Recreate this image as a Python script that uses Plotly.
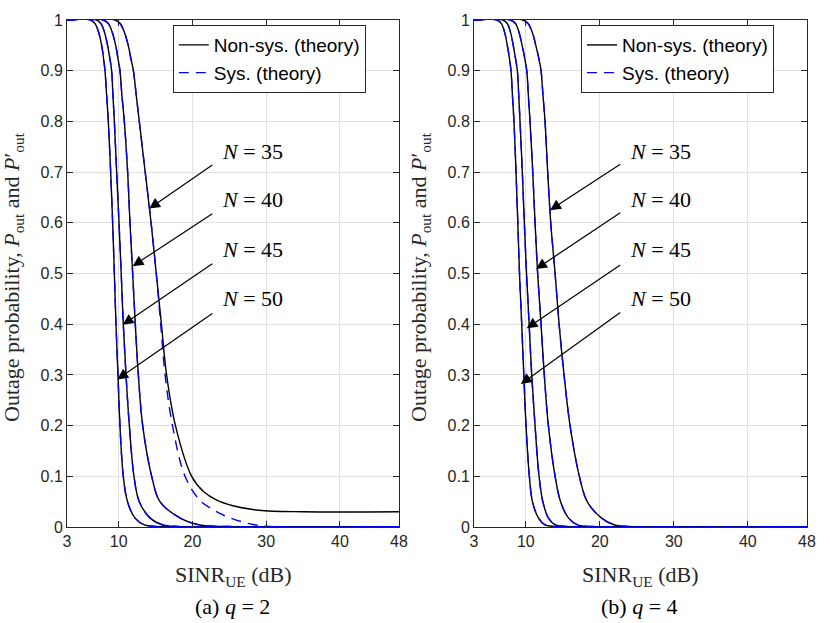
import plotly.graph_objects as go

# values (x = SINR_UE in dB, y = outage probability)
# y levels shared by most curves
y_lvl = [1, 1, 0.993, 0.975, 0.95, 0.925, 0.9, 0.85, 0.8, 0.7, 0.6, 0.5, 0.4, 0.3, 0.2, 0.1,
         0.05, 0.018, 0.004, 0.001, 0, 0]

# (a) q = 2, non-systematic (N = 50, 45, 40, 35)
xa_50 = [3, 6.2, 6.8, 7.3, 7.7, 7.95, 8.15, 8.38, 8.6, 8.92, 9.19, 9.42, 9.64, 9.91, 10.18, 10.63,
         11.2, 12.2, 13.5, 15, 20, 48]
xa_45 = [3, 7.0, 7.6, 8.1, 8.5, 8.8, 9.05, 9.23, 9.42, 9.73, 10.05, 10.35, 10.63, 11.0, 11.45, 12.08,
         12.8, 14.25, 16, 18, 22, 48]
xa_40 = [3, 7.9, 8.6, 9.15, 9.6, 9.9, 10.18, 10.45, 10.77, 11.22, 11.54, 11.9, 12.26, 12.67, 13.26, 14.48,
         15.6, 18.3, 21, 25, 30, 48]
xa_35 = [3, 9.5, 10.2, 10.8, 11.3, 11.65, 12.0, 12.4, 12.8, 13.6, 14.4, 15.1, 15.8, 16.5, 17.7, 19.9,
         21.5, 23.3, 25.5, 29, 35, 48]
ya_35 = [1, 1, 0.993, 0.975, 0.95, 0.925, 0.9, 0.85, 0.8, 0.7, 0.6, 0.5, 0.4, 0.3, 0.2, 0.1,
         0.07, 0.053, 0.042, 0.033, 0.03, 0.03]
# (a) q = 2, systematic N = 35 (other N coincide with non-sys.)
xa_35s = [3, 9.5, 10.2, 10.8, 11.3, 11.65, 12.0, 12.4, 12.8, 13.6, 14.4, 15.1, 15.7, 16.3, 17.3, 19.0,
          21.0, 22.7, 24.6, 28.2, 32, 48]
ya_35s = [1, 1, 0.993, 0.975, 0.95, 0.925, 0.9, 0.85, 0.8, 0.7, 0.6, 0.5, 0.4, 0.3, 0.2, 0.1,
          0.053, 0.035, 0.021, 0.005, 0, 0]

# (b) q = 4, sys. and non-sys. coincide
xb_50 = [3, 6.1, 6.7, 7.15, 7.5, 7.78, 8.0, 8.2, 8.4, 8.68, 8.92, 9.15, 9.45, 9.73, 10.03, 10.48,
         10.9, 11.7, 12.6, 14, 18, 48]
xb_45 = [3, 6.9, 7.5, 7.95, 8.3, 8.6, 8.86, 9.05, 9.22, 9.53, 9.8, 10.1, 10.45, 10.8, 11.25, 11.79,
         12.3, 13.05, 14, 15.5, 19, 48]
xb_40 = [3, 7.9, 8.6, 9.1, 9.5, 9.85, 10.13, 10.35, 10.57, 10.94, 11.25, 11.6, 12.06, 12.5, 13.05, 13.96,
         14.7, 15.75, 17, 19, 23, 48]
xb_35 = [3, 9.6, 10.3, 10.9, 11.35, 11.75, 12.06, 12.33, 12.6, 12.96, 13.37, 13.96, 14.5, 15.17, 15.98, 17.24,
         18.3, 20.2, 22, 24, 28, 48]

x_ticks = [3, 10, 20, 30, 40, 48]
y_ticks = [0, 0.1, 0.2, 0.3, 0.4, 0.5, 0.6, 0.7, 0.8, 0.9, 1]
y_tick_text = ["0", "0.1", "0.2", "0.3", "0.4", "0.5", "0.6", "0.7", "0.8", "0.9", "1"]

legend_names = ["Non-sys. (theory)", "Sys. (theory)"]
captions = ["(a) <i>q</i> = 2", "(b) <i>q</i> = 4"]
arrow_labels = [35, 40, 45, 50]

# label centre, arrow tail, arrow head (data coords) for each N label
arrows_a = [(28.2, 0.741, 22.9, 0.716, 14.15, 0.628),
            (28.2, 0.646, 22.9, 0.620, 11.9, 0.5145),
            (28.2, 0.547, 22.9, 0.521, 10.55, 0.399),
            (28.2, 0.451, 22.9, 0.423, 9.82, 0.291)]
arrows_b = [(28.2, 0.741, 22.97, 0.7175, 13.28, 0.625),
            (28.2, 0.646, 22.97, 0.622, 11.39, 0.509),
            (28.2, 0.547, 22.97, 0.519, 10.13, 0.392),
            (28.2, 0.451, 22.97, 0.425, 9.32, 0.282)]

panel_a_ns = [(xa_50, y_lvl), (xa_45, y_lvl), (xa_40, y_lvl), (xa_35, ya_35)]
panel_a_s = [(xa_50, y_lvl), (xa_45, y_lvl), (xa_40, y_lvl), (xa_35s, ya_35s)]
panel_b = [(xb_50, y_lvl), (xb_45, y_lvl), (xb_40, y_lvl), (xb_35, y_lvl)]

SERIF = "Liberation Serif"
SANS = "Liberation Sans"
AXC = "#262626"

fig = go.Figure()


def add_curves(curves_ns, curves_s, xa, ya, leg):
    for i, (xs, ys) in enumerate(curves_ns):
        fig.add_trace(go.Scatter(x=xs, y=ys, mode="lines", xaxis=xa, yaxis=ya,
                                 line=dict(color="black", width=1.4, shape="spline"),
                                 name=legend_names[0], legend=leg, showlegend=(i == 0)))
    for i, (xs, ys) in enumerate(curves_s):
        fig.add_trace(go.Scatter(x=xs, y=ys, mode="lines", xaxis=xa, yaxis=ya,
                                 line=dict(color="#0000ff", width=1.4, shape="spline", dash="10px,7px"),
                                 name=legend_names[1], legend=leg, showlegend=(i == 0)))


add_curves(panel_a_ns, panel_a_s, "x", "y", "legend")
add_curves(panel_b, panel_b, "x2", "y2", "legend2")

axis_common = dict(showline=True, linecolor=AXC, linewidth=1, mirror="ticks",
                   ticks="inside", ticklen=6, tickcolor=AXC,
                   showgrid=True, gridcolor="#e0e0e0", gridwidth=1, zeroline=False,
                   tickfont=dict(family=SANS, size=16, color=AXC))

legend_common = dict(y=0.99, xanchor="left", yanchor="top", bgcolor="white",
                     bordercolor=AXC, borderwidth=1, tracegroupgap=0,
                     font=dict(family=SANS, size=19, color="black"))

fig.update_layout(
    width=830, height=623,
    margin=dict(l=67, r=23, t=14, b=96),
    plot_bgcolor="white", paper_bgcolor="white",
    xaxis=dict(domain=[0, 0.4486], range=[3, 48], tickvals=x_ticks, anchor="y", **axis_common),
    yaxis=dict(domain=[0, 1], range=[0, 1], tickvals=y_ticks, ticktext=y_tick_text, anchor="x", **axis_common),
    xaxis2=dict(domain=[0.55, 1], range=[3, 48], tickvals=x_ticks, anchor="y2", **axis_common),
    yaxis2=dict(domain=[0, 1], range=[0, 1], tickvals=y_ticks, ticktext=y_tick_text, anchor="x2", **axis_common),
    legend=dict(x=0.143, **legend_common),
    legend2=dict(x=0.6946, **legend_common),
)

annotations = []
for xr, yr, arrows in [("x", "y", arrows_a), ("x2", "y2", arrows_b)]:
    for lab, (tx, ty, ax, ay, hx, hy) in zip(arrow_labels, arrows):
        annotations.append(dict(x=tx, y=ty, xref=xr, yref=yr, text="<i>N</i> = %d" % lab,
                                xanchor="center", yanchor="middle", showarrow=False,
                                font=dict(family=SERIF, size=22, color="black")))
        annotations.append(dict(x=hx, y=hy, xref=xr, yref=yr, ax=ax, ay=ay, axref=xr, ayref=yr,
                                text="", showarrow=True, arrowhead=2, arrowsize=1.8,
                                arrowwidth=1.2, arrowcolor="black", standoff=0, startstandoff=0))

ylab = "Outage probability, <i>P</i><sub>out</sub> and <i>P</i>\u2032<sub>out</sub>"
xlab = "SINR<sub>UE</sub> (dB)"
for ytx, cx, cap in [(-0.073, 0.2243, captions[0]), (0.477, 0.774, captions[1])]:
    annotations.append(dict(x=ytx, y=0.4932, xref="paper", yref="paper", text=ylab, textangle=-90,
                            xanchor="center", yanchor="middle", showarrow=False,
                            font=dict(family=SERIF, size=22, color=AXC)))
    annotations.append(dict(x=cx, y=-0.0975, xref="paper", yref="paper", text=xlab,
                            xanchor="center", yanchor="middle", showarrow=False,
                            font=dict(family=SERIF, size=22, color=AXC)))
    annotations.append(dict(x=cx, y=-0.156, xref="paper", yref="paper", text=cap,
                            xanchor="center", yanchor="middle", showarrow=False,
                            font=dict(family=SERIF, size=22, color="black")))

fig.update_layout(annotations=annotations)

# drop the default 8px page margin so the figure fills the window
fig.write_html("out.html", config={"displayModeBar": False},
               post_script="document.body.style.margin = '0px';")
